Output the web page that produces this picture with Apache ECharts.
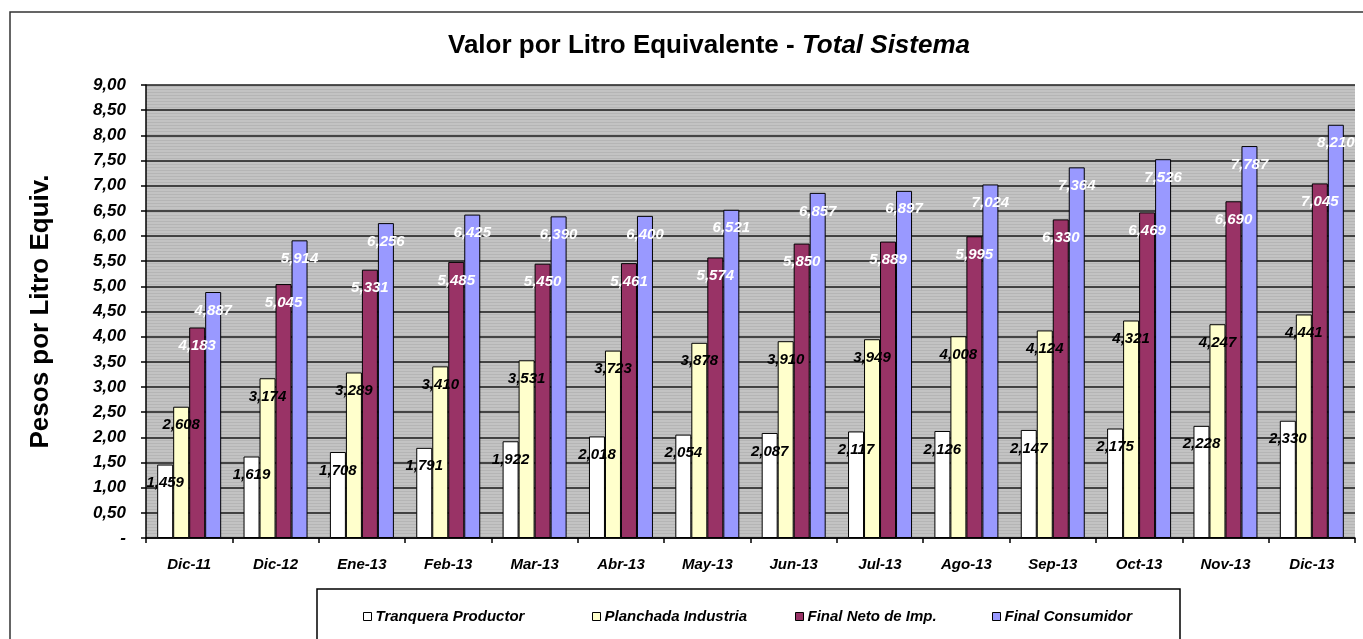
<!DOCTYPE html>
<html>
<head>
<meta charset="utf-8">
<script src="https://cdn.jsdelivr.net/npm/echarts@6/dist/echarts.min.js"></script>
<style>html,body{margin:0;padding:0;background:#fff;}#c{width:1363px;height:639px;}</style>
</head>
<body>
<div id="c"></div>
<script>
var categories = ['Dic-11','Dic-12','Ene-13','Feb-13','Mar-13','Abr-13','May-13','Jun-13','Jul-13','Ago-13','Sep-13','Oct-13','Nov-13','Dic-13'];
var seriesNames = ['Tranquera Productor','Planchada Industria','Final Neto de Imp.','Final Consumidor'];
var tranquera = [1.459,1.619,1.708,1.791,1.922,2.018,2.054,2.087,2.117,2.126,2.147,2.175,2.228,2.330];
var planchada = [2.608,3.174,3.289,3.410,3.531,3.723,3.878,3.910,3.949,4.008,4.124,4.321,4.247,4.441];
var finalNeto = [4.183,5.045,5.331,5.485,5.450,5.461,5.574,5.850,5.889,5.995,6.330,6.469,6.690,7.045];
var finalConsumidor = [4.887,5.914,6.256,6.425,6.390,6.400,6.521,6.857,6.897,7.024,7.364,7.526,7.787,8.210];
var yTicks = {min: 0, max: 9, interval: 0.5};

var FONT = "'Liberation Sans', Arial, sans-serif";
var colors = ['#FFFFFF','#FFFFCC','#993366','#9999FF'];
var labelColors = ['#000','#000','#fff','#fff'];
var dataSets = [tranquera, planchada, finalNeto, finalConsumidor];

// striped background pattern
var pc = document.createElement('canvas');
pc.width = 4; pc.height = 3;
var pctx = pc.getContext('2d');
pctx.fillStyle = '#C3C3C3'; pctx.fillRect(0,0,4,3);
pctx.fillStyle = '#B5B5B5'; pctx.fillRect(0,2,4,1);

var chart = echarts.init(document.getElementById('c'));

var series = dataSets.map(function(d, i){
  return {
    name: seriesNames[i],
    type: 'bar',
    data: d,
    barWidth: 16,
    barGap: '0%',
    itemStyle: {color: colors[i], borderColor: '#000', borderWidth: 1},
    label: {
      show: true,
      position: 'insideTop',
      distance: 11,
      color: labelColors[i],
      fontFamily: FONT,
      fontWeight: 'bold',
      fontStyle: 'italic',
      fontSize: 15,
      formatter: function(p){ return p.value.toFixed(3).replace('.', ','); }
    }
  };
});

var legendLefts = [358, 587, 790, 987];
var legends = seriesNames.map(function(n, i){
  return {
    data: [n],
    left: legendLefts[i],
    top: 604,
    itemWidth: 8,
    itemHeight: 8,
    itemGap: 0,
    selectedMode: false,
    icon: 'rect',
    itemStyle: {borderColor: '#000', borderWidth: 1},
    textStyle: {fontFamily: FONT, fontWeight: 'bold', fontStyle: 'italic', fontSize: 15, color: '#000', padding: [0,0,0,-1]}
  };
});

chart.setOption({
  animation: false,
  title: {
    text: '{a|Valor por Litro Equivalente - }{b|Total Sistema}',
    left: 704,
    textAlign: 'center',
    top: 28,
    textStyle: {
      rich: {
        a: {fontFamily: FONT, fontWeight: 'bold', fontSize: 26, color: '#000'},
        b: {fontFamily: FONT, fontWeight: 'bold', fontStyle: 'italic', fontSize: 26, color: '#000'}
      }
    }
  },
  legend: legends,
  graphic: [
    {type: 'rect', shape: {x: 10, y: 12, width: 1400, height: 700}, style: {fill: 'none', stroke: '#333', lineWidth: 1.5}, silent: true, z: -1},
    {type: 'rect', shape: {x: 317, y: 589, width: 863, height: 80}, style: {fill: '#fff', stroke: '#000', lineWidth: 1.5}, silent: true, z: 0}
  ],
  grid: {
    left: 146, right: 8, top: 85, bottom: 101,
    show: true,
    backgroundColor: {image: pc, repeat: 'repeat'},
    borderWidth: 0
  },
  xAxis: {
    type: 'category',
    data: categories,
    axisLine: {lineStyle: {color: '#000', width: 1.5}},
    axisTick: {show: true, length: 5, alignWithLabel: false, lineStyle: {color: '#000', width: 1.5}},
    axisLabel: {margin: 19, fontFamily: FONT, fontWeight: 'bold', fontStyle: 'italic', fontSize: 15, color: '#000', interval: 0}
  },
  yAxis: {
    type: 'value',
    min: yTicks.min, max: yTicks.max, interval: yTicks.interval,
    name: 'Pesos por Litro Equiv.',
    nameLocation: 'middle',
    nameRotate: 90,
    nameGap: 92,
    nameTextStyle: {fontFamily: FONT, fontWeight: 'bold', fontSize: 26, color: '#000'},
    axisLine: {show: true, lineStyle: {color: '#000', width: 1.5}},
    axisTick: {show: true, length: 5, lineStyle: {color: '#000', width: 1.5}},
    splitLine: {show: true, lineStyle: {color: '#1a1a1a', width: 1.5}},
    axisLabel: {
      margin: 20,
      fontFamily: FONT, fontWeight: 'bold', fontStyle: 'italic', fontSize: 17, color: '#000',
      formatter: function(v){ return v === 0 ? '-' : v.toFixed(2).replace('.', ','); }
    }
  },
  series: series
});
</script>
</body>
</html>
